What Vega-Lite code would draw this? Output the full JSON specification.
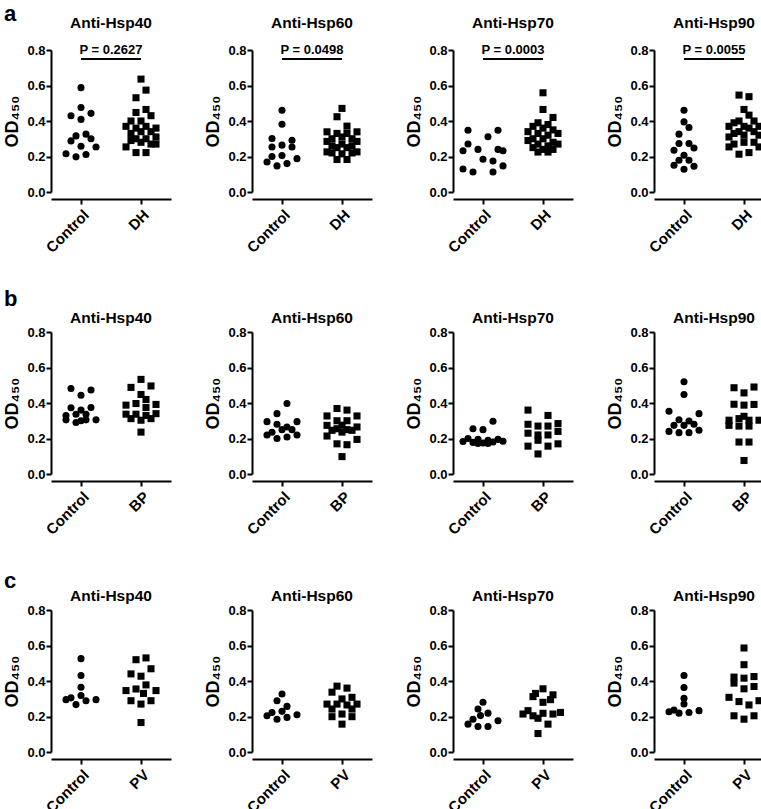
{
"$schema": "https://vega.github.io/schema/vega-lite/v6.json",
"padding": {"left": 3, "top": 2, "right": 0, "bottom": 0},
"data": {"values": [
{"row":"a","antigen":"Anti-Hsp40","group":"Control","od":0.588,"slot":0},
{"row":"a","antigen":"Anti-Hsp40","group":"Control","od":0.476,"slot":0},
{"row":"a","antigen":"Anti-Hsp40","group":"Control","od":0.443,"slot":2},
{"row":"a","antigen":"Anti-Hsp40","group":"Control","od":0.43,"slot":-2},
{"row":"a","antigen":"Anti-Hsp40","group":"Control","od":0.409,"slot":0},
{"row":"a","antigen":"Anti-Hsp40","group":"Control","od":0.326,"slot":1},
{"row":"a","antigen":"Anti-Hsp40","group":"Control","od":0.316,"slot":-1},
{"row":"a","antigen":"Anti-Hsp40","group":"Control","od":0.30,"slot":2},
{"row":"a","antigen":"Anti-Hsp40","group":"Control","od":0.288,"slot":-2},
{"row":"a","antigen":"Anti-Hsp40","group":"Control","od":0.258,"slot":0},
{"row":"a","antigen":"Anti-Hsp40","group":"Control","od":0.254,"slot":3},
{"row":"a","antigen":"Anti-Hsp40","group":"Control","od":0.215,"slot":-3},
{"row":"a","antigen":"Anti-Hsp40","group":"Control","od":0.211,"slot":1},
{"row":"a","antigen":"Anti-Hsp40","group":"Control","od":0.198,"slot":-1},
{"row":"a","antigen":"Anti-Hsp40","group":"DH","od":0.636,"slot":0},
{"row":"a","antigen":"Anti-Hsp40","group":"DH","od":0.40,"slot":0},
{"row":"a","antigen":"Anti-Hsp40","group":"DH","od":0.34,"slot":0},
{"row":"a","antigen":"Anti-Hsp40","group":"DH","od":0.28,"slot":0},
{"row":"a","antigen":"Anti-Hsp40","group":"DH","od":0.574,"slot":1},
{"row":"a","antigen":"Anti-Hsp40","group":"DH","od":0.465,"slot":1},
{"row":"a","antigen":"Anti-Hsp40","group":"DH","od":0.37,"slot":1},
{"row":"a","antigen":"Anti-Hsp40","group":"DH","od":0.30,"slot":1},
{"row":"a","antigen":"Anti-Hsp40","group":"DH","od":0.222,"slot":1},
{"row":"a","antigen":"Anti-Hsp40","group":"DH","od":0.531,"slot":-1},
{"row":"a","antigen":"Anti-Hsp40","group":"DH","od":0.448,"slot":-1},
{"row":"a","antigen":"Anti-Hsp40","group":"DH","od":0.36,"slot":-1},
{"row":"a","antigen":"Anti-Hsp40","group":"DH","od":0.30,"slot":-1},
{"row":"a","antigen":"Anti-Hsp40","group":"DH","od":0.222,"slot":-1},
{"row":"a","antigen":"Anti-Hsp40","group":"DH","od":0.43,"slot":2},
{"row":"a","antigen":"Anti-Hsp40","group":"DH","od":0.34,"slot":2},
{"row":"a","antigen":"Anti-Hsp40","group":"DH","od":0.27,"slot":2},
{"row":"a","antigen":"Anti-Hsp40","group":"DH","od":0.40,"slot":-2},
{"row":"a","antigen":"Anti-Hsp40","group":"DH","od":0.33,"slot":-2},
{"row":"a","antigen":"Anti-Hsp40","group":"DH","od":0.29,"slot":-2},
{"row":"a","antigen":"Anti-Hsp40","group":"DH","od":0.37,"slot":-3},
{"row":"a","antigen":"Anti-Hsp40","group":"DH","od":0.254,"slot":-3},
{"row":"a","antigen":"Anti-Hsp40","group":"DH","od":0.36,"slot":3},
{"row":"a","antigen":"Anti-Hsp40","group":"DH","od":0.31,"slot":3},
{"row":"a","antigen":"Anti-Hsp40","group":"DH","od":0.27,"slot":3},
{"row":"a","antigen":"Anti-Hsp60","group":"Control","od":0.461,"slot":0},
{"row":"a","antigen":"Anti-Hsp60","group":"Control","od":0.382,"slot":0},
{"row":"a","antigen":"Anti-Hsp60","group":"Control","od":0.301,"slot":-2},
{"row":"a","antigen":"Anti-Hsp60","group":"Control","od":0.292,"slot":2},
{"row":"a","antigen":"Anti-Hsp60","group":"Control","od":0.254,"slot":-2},
{"row":"a","antigen":"Anti-Hsp60","group":"Control","od":0.264,"slot":0},
{"row":"a","antigen":"Anti-Hsp60","group":"Control","od":0.254,"slot":2},
{"row":"a","antigen":"Anti-Hsp60","group":"Control","od":0.20,"slot":-2},
{"row":"a","antigen":"Anti-Hsp60","group":"Control","od":0.205,"slot":0},
{"row":"a","antigen":"Anti-Hsp60","group":"Control","od":0.188,"slot":3},
{"row":"a","antigen":"Anti-Hsp60","group":"Control","od":0.169,"slot":-3},
{"row":"a","antigen":"Anti-Hsp60","group":"Control","od":0.147,"slot":-1},
{"row":"a","antigen":"Anti-Hsp60","group":"Control","od":0.16,"slot":1},
{"row":"a","antigen":"Anti-Hsp60","group":"DH","od":0.471,"slot":0},
{"row":"a","antigen":"Anti-Hsp60","group":"DH","od":0.31,"slot":0},
{"row":"a","antigen":"Anti-Hsp60","group":"DH","od":0.27,"slot":0},
{"row":"a","antigen":"Anti-Hsp60","group":"DH","od":0.215,"slot":0},
{"row":"a","antigen":"Anti-Hsp60","group":"DH","od":0.424,"slot":-1},
{"row":"a","antigen":"Anti-Hsp60","group":"DH","od":0.33,"slot":-1},
{"row":"a","antigen":"Anti-Hsp60","group":"DH","od":0.25,"slot":-1},
{"row":"a","antigen":"Anti-Hsp60","group":"DH","od":0.183,"slot":-1},
{"row":"a","antigen":"Anti-Hsp60","group":"DH","od":0.371,"slot":1},
{"row":"a","antigen":"Anti-Hsp60","group":"DH","od":0.33,"slot":1},
{"row":"a","antigen":"Anti-Hsp60","group":"DH","od":0.25,"slot":1},
{"row":"a","antigen":"Anti-Hsp60","group":"DH","od":0.183,"slot":1},
{"row":"a","antigen":"Anti-Hsp60","group":"DH","od":0.30,"slot":-2},
{"row":"a","antigen":"Anti-Hsp60","group":"DH","od":0.26,"slot":-2},
{"row":"a","antigen":"Anti-Hsp60","group":"DH","od":0.22,"slot":-2},
{"row":"a","antigen":"Anti-Hsp60","group":"DH","od":0.30,"slot":2},
{"row":"a","antigen":"Anti-Hsp60","group":"DH","od":0.26,"slot":2},
{"row":"a","antigen":"Anti-Hsp60","group":"DH","od":0.22,"slot":2},
{"row":"a","antigen":"Anti-Hsp60","group":"DH","od":0.339,"slot":-3},
{"row":"a","antigen":"Anti-Hsp60","group":"DH","od":0.285,"slot":-3},
{"row":"a","antigen":"Anti-Hsp60","group":"DH","od":0.226,"slot":-3},
{"row":"a","antigen":"Anti-Hsp60","group":"DH","od":0.339,"slot":3},
{"row":"a","antigen":"Anti-Hsp60","group":"DH","od":0.285,"slot":3},
{"row":"a","antigen":"Anti-Hsp60","group":"DH","od":0.226,"slot":3},
{"row":"a","antigen":"Anti-Hsp70","group":"Control","od":0.348,"slot":-3},
{"row":"a","antigen":"Anti-Hsp70","group":"Control","od":0.348,"slot":3},
{"row":"a","antigen":"Anti-Hsp70","group":"Control","od":0.311,"slot":1},
{"row":"a","antigen":"Anti-Hsp70","group":"Control","od":0.27,"slot":-3},
{"row":"a","antigen":"Anti-Hsp70","group":"Control","od":0.232,"slot":-4},
{"row":"a","antigen":"Anti-Hsp70","group":"Control","od":0.24,"slot":-1},
{"row":"a","antigen":"Anti-Hsp70","group":"Control","od":0.24,"slot":3},
{"row":"a","antigen":"Anti-Hsp70","group":"Control","od":0.232,"slot":4},
{"row":"a","antigen":"Anti-Hsp70","group":"Control","od":0.185,"slot":0},
{"row":"a","antigen":"Anti-Hsp70","group":"Control","od":0.175,"slot":2},
{"row":"a","antigen":"Anti-Hsp70","group":"Control","od":0.13,"slot":-4},
{"row":"a","antigen":"Anti-Hsp70","group":"Control","od":0.147,"slot":4},
{"row":"a","antigen":"Anti-Hsp70","group":"Control","od":0.113,"slot":-2},
{"row":"a","antigen":"Anti-Hsp70","group":"Control","od":0.113,"slot":2},
{"row":"a","antigen":"Anti-Hsp70","group":"DH","od":0.559,"slot":0},
{"row":"a","antigen":"Anti-Hsp70","group":"DH","od":0.465,"slot":0},
{"row":"a","antigen":"Anti-Hsp70","group":"DH","od":0.36,"slot":0},
{"row":"a","antigen":"Anti-Hsp70","group":"DH","od":0.30,"slot":0},
{"row":"a","antigen":"Anti-Hsp70","group":"DH","od":0.24,"slot":0},
{"row":"a","antigen":"Anti-Hsp70","group":"DH","od":0.39,"slot":-1},
{"row":"a","antigen":"Anti-Hsp70","group":"DH","od":0.33,"slot":-1},
{"row":"a","antigen":"Anti-Hsp70","group":"DH","od":0.27,"slot":-1},
{"row":"a","antigen":"Anti-Hsp70","group":"DH","od":0.225,"slot":-1},
{"row":"a","antigen":"Anti-Hsp70","group":"DH","od":0.38,"slot":1},
{"row":"a","antigen":"Anti-Hsp70","group":"DH","od":0.32,"slot":1},
{"row":"a","antigen":"Anti-Hsp70","group":"DH","od":0.26,"slot":1},
{"row":"a","antigen":"Anti-Hsp70","group":"DH","od":0.225,"slot":1},
{"row":"a","antigen":"Anti-Hsp70","group":"DH","od":0.37,"slot":-2},
{"row":"a","antigen":"Anti-Hsp70","group":"DH","od":0.30,"slot":-2},
{"row":"a","antigen":"Anti-Hsp70","group":"DH","od":0.25,"slot":-2},
{"row":"a","antigen":"Anti-Hsp70","group":"DH","od":0.42,"slot":2},
{"row":"a","antigen":"Anti-Hsp70","group":"DH","od":0.35,"slot":2},
{"row":"a","antigen":"Anti-Hsp70","group":"DH","od":0.28,"slot":2},
{"row":"a","antigen":"Anti-Hsp70","group":"DH","od":0.24,"slot":2},
{"row":"a","antigen":"Anti-Hsp70","group":"DH","od":0.34,"slot":-3},
{"row":"a","antigen":"Anti-Hsp70","group":"DH","od":0.29,"slot":-3},
{"row":"a","antigen":"Anti-Hsp70","group":"DH","od":0.33,"slot":3},
{"row":"a","antigen":"Anti-Hsp70","group":"DH","od":0.27,"slot":3},
{"row":"a","antigen":"Anti-Hsp90","group":"Control","od":0.461,"slot":0},
{"row":"a","antigen":"Anti-Hsp90","group":"Control","od":0.395,"slot":0},
{"row":"a","antigen":"Anti-Hsp90","group":"Control","od":0.363,"slot":1},
{"row":"a","antigen":"Anti-Hsp90","group":"Control","od":0.326,"slot":-1},
{"row":"a","antigen":"Anti-Hsp90","group":"Control","od":0.273,"slot":-1},
{"row":"a","antigen":"Anti-Hsp90","group":"Control","od":0.273,"slot":1},
{"row":"a","antigen":"Anti-Hsp90","group":"Control","od":0.235,"slot":-2},
{"row":"a","antigen":"Anti-Hsp90","group":"Control","od":0.248,"slot":2},
{"row":"a","antigen":"Anti-Hsp90","group":"Control","od":0.207,"slot":0},
{"row":"a","antigen":"Anti-Hsp90","group":"Control","od":0.179,"slot":-1},
{"row":"a","antigen":"Anti-Hsp90","group":"Control","od":0.179,"slot":1},
{"row":"a","antigen":"Anti-Hsp90","group":"Control","od":0.151,"slot":-2},
{"row":"a","antigen":"Anti-Hsp90","group":"Control","od":0.145,"slot":2},
{"row":"a","antigen":"Anti-Hsp90","group":"Control","od":0.128,"slot":0},
{"row":"a","antigen":"Anti-Hsp90","group":"DH","od":0.465,"slot":0},
{"row":"a","antigen":"Anti-Hsp90","group":"DH","od":0.37,"slot":0},
{"row":"a","antigen":"Anti-Hsp90","group":"DH","od":0.32,"slot":0},
{"row":"a","antigen":"Anti-Hsp90","group":"DH","od":0.28,"slot":0},
{"row":"a","antigen":"Anti-Hsp90","group":"DH","od":0.546,"slot":-1},
{"row":"a","antigen":"Anti-Hsp90","group":"DH","od":0.40,"slot":-1},
{"row":"a","antigen":"Anti-Hsp90","group":"DH","od":0.34,"slot":-1},
{"row":"a","antigen":"Anti-Hsp90","group":"DH","od":0.213,"slot":-1},
{"row":"a","antigen":"Anti-Hsp90","group":"DH","od":0.537,"slot":1},
{"row":"a","antigen":"Anti-Hsp90","group":"DH","od":0.433,"slot":1},
{"row":"a","antigen":"Anti-Hsp90","group":"DH","od":0.36,"slot":1},
{"row":"a","antigen":"Anti-Hsp90","group":"DH","od":0.222,"slot":1},
{"row":"a","antigen":"Anti-Hsp90","group":"DH","od":0.39,"slot":-2},
{"row":"a","antigen":"Anti-Hsp90","group":"DH","od":0.33,"slot":-2},
{"row":"a","antigen":"Anti-Hsp90","group":"DH","od":0.27,"slot":-2},
{"row":"a","antigen":"Anti-Hsp90","group":"DH","od":0.40,"slot":2},
{"row":"a","antigen":"Anti-Hsp90","group":"DH","od":0.34,"slot":2},
{"row":"a","antigen":"Anti-Hsp90","group":"DH","od":0.28,"slot":2},
{"row":"a","antigen":"Anti-Hsp90","group":"DH","od":0.37,"slot":-3},
{"row":"a","antigen":"Anti-Hsp90","group":"DH","od":0.31,"slot":-3},
{"row":"a","antigen":"Anti-Hsp90","group":"DH","od":0.254,"slot":-3},
{"row":"a","antigen":"Anti-Hsp90","group":"DH","od":0.37,"slot":3},
{"row":"a","antigen":"Anti-Hsp90","group":"DH","od":0.32,"slot":3},
{"row":"a","antigen":"Anti-Hsp90","group":"DH","od":0.254,"slot":3},
{"row":"a","antigen":"Anti-Hsp40","group":"Control","group2":"DH","label":"P = 0.2627"},
{"row":"a","antigen":"Anti-Hsp60","group":"Control","group2":"DH","label":"P = 0.0498"},
{"row":"a","antigen":"Anti-Hsp70","group":"Control","group2":"DH","label":"P = 0.0003"},
{"row":"a","antigen":"Anti-Hsp90","group":"Control","group2":"DH","label":"P = 0.0055"},
{"row":"b","antigen":"Anti-Hsp40","group":"Control","od":0.482,"slot":-2},
{"row":"b","antigen":"Anti-Hsp40","group":"Control","od":0.473,"slot":2},
{"row":"b","antigen":"Anti-Hsp40","group":"Control","od":0.444,"slot":0},
{"row":"b","antigen":"Anti-Hsp40","group":"Control","od":0.373,"slot":-2},
{"row":"b","antigen":"Anti-Hsp40","group":"Control","od":0.374,"slot":2},
{"row":"b","antigen":"Anti-Hsp40","group":"Control","od":0.36,"slot":0},
{"row":"b","antigen":"Anti-Hsp40","group":"Control","od":0.337,"slot":-1},
{"row":"b","antigen":"Anti-Hsp40","group":"Control","od":0.337,"slot":1},
{"row":"b","antigen":"Anti-Hsp40","group":"Control","od":0.305,"slot":-3},
{"row":"b","antigen":"Anti-Hsp40","group":"Control","od":0.29,"slot":-1},
{"row":"b","antigen":"Anti-Hsp40","group":"Control","od":0.305,"slot":1},
{"row":"b","antigen":"Anti-Hsp40","group":"Control","od":0.305,"slot":3},
{"row":"b","antigen":"Anti-Hsp40","group":"Control","od":0.33,"slot":-3},
{"row":"b","antigen":"Anti-Hsp40","group":"Control","od":0.30,"slot":0},
{"row":"b","antigen":"Anti-Hsp40","group":"BP","od":0.533,"slot":0},
{"row":"b","antigen":"Anti-Hsp40","group":"BP","od":0.488,"slot":-2},
{"row":"b","antigen":"Anti-Hsp40","group":"BP","od":0.496,"slot":2},
{"row":"b","antigen":"Anti-Hsp40","group":"BP","od":0.448,"slot":0},
{"row":"b","antigen":"Anti-Hsp40","group":"BP","od":0.42,"slot":1},
{"row":"b","antigen":"Anti-Hsp40","group":"BP","od":0.388,"slot":-3},
{"row":"b","antigen":"Anti-Hsp40","group":"BP","od":0.397,"slot":-1},
{"row":"b","antigen":"Anti-Hsp40","group":"BP","od":0.392,"slot":3},
{"row":"b","antigen":"Anti-Hsp40","group":"BP","od":0.375,"slot":1},
{"row":"b","antigen":"Anti-Hsp40","group":"BP","od":0.337,"slot":-3},
{"row":"b","antigen":"Anti-Hsp40","group":"BP","od":0.337,"slot":-1},
{"row":"b","antigen":"Anti-Hsp40","group":"BP","od":0.33,"slot":1},
{"row":"b","antigen":"Anti-Hsp40","group":"BP","od":0.34,"slot":3},
{"row":"b","antigen":"Anti-Hsp40","group":"BP","od":0.312,"slot":-2},
{"row":"b","antigen":"Anti-Hsp40","group":"BP","od":0.312,"slot":2},
{"row":"b","antigen":"Anti-Hsp40","group":"BP","od":0.303,"slot":0},
{"row":"b","antigen":"Anti-Hsp40","group":"BP","od":0.236,"slot":0},
{"row":"b","antigen":"Anti-Hsp60","group":"Control","od":0.397,"slot":1},
{"row":"b","antigen":"Anti-Hsp60","group":"Control","od":0.34,"slot":-1},
{"row":"b","antigen":"Anti-Hsp60","group":"Control","od":0.295,"slot":-3},
{"row":"b","antigen":"Anti-Hsp60","group":"Control","od":0.295,"slot":3},
{"row":"b","antigen":"Anti-Hsp60","group":"Control","od":0.28,"slot":-1},
{"row":"b","antigen":"Anti-Hsp60","group":"Control","od":0.265,"slot":1},
{"row":"b","antigen":"Anti-Hsp60","group":"Control","od":0.25,"slot":0},
{"row":"b","antigen":"Anti-Hsp60","group":"Control","od":0.25,"slot":2},
{"row":"b","antigen":"Anti-Hsp60","group":"Control","od":0.22,"slot":-3},
{"row":"b","antigen":"Anti-Hsp60","group":"Control","od":0.22,"slot":3},
{"row":"b","antigen":"Anti-Hsp60","group":"Control","od":0.20,"slot":-1},
{"row":"b","antigen":"Anti-Hsp60","group":"Control","od":0.208,"slot":1},
{"row":"b","antigen":"Anti-Hsp60","group":"Control","od":0.235,"slot":-2},
{"row":"b","antigen":"Anti-Hsp60","group":"BP","od":0.369,"slot":-1},
{"row":"b","antigen":"Anti-Hsp60","group":"BP","od":0.30,"slot":-1},
{"row":"b","antigen":"Anti-Hsp60","group":"BP","od":0.255,"slot":-1},
{"row":"b","antigen":"Anti-Hsp60","group":"BP","od":0.17,"slot":-1},
{"row":"b","antigen":"Anti-Hsp60","group":"BP","od":0.36,"slot":1},
{"row":"b","antigen":"Anti-Hsp60","group":"BP","od":0.30,"slot":1},
{"row":"b","antigen":"Anti-Hsp60","group":"BP","od":0.25,"slot":1},
{"row":"b","antigen":"Anti-Hsp60","group":"BP","od":0.165,"slot":1},
{"row":"b","antigen":"Anti-Hsp60","group":"BP","od":0.327,"slot":-3},
{"row":"b","antigen":"Anti-Hsp60","group":"BP","od":0.274,"slot":-3},
{"row":"b","antigen":"Anti-Hsp60","group":"BP","od":0.214,"slot":-3},
{"row":"b","antigen":"Anti-Hsp60","group":"BP","od":0.327,"slot":3},
{"row":"b","antigen":"Anti-Hsp60","group":"BP","od":0.265,"slot":3},
{"row":"b","antigen":"Anti-Hsp60","group":"BP","od":0.195,"slot":3},
{"row":"b","antigen":"Anti-Hsp60","group":"BP","od":0.275,"slot":0},
{"row":"b","antigen":"Anti-Hsp60","group":"BP","od":0.236,"slot":0},
{"row":"b","antigen":"Anti-Hsp60","group":"BP","od":0.098,"slot":0},
{"row":"b","antigen":"Anti-Hsp60","group":"BP","od":0.246,"slot":-2},
{"row":"b","antigen":"Anti-Hsp60","group":"BP","od":0.246,"slot":2},
{"row":"b","antigen":"Anti-Hsp70","group":"Control","od":0.255,"slot":-2},
{"row":"b","antigen":"Anti-Hsp70","group":"Control","od":0.25,"slot":0},
{"row":"b","antigen":"Anti-Hsp70","group":"Control","od":0.297,"slot":2},
{"row":"b","antigen":"Anti-Hsp70","group":"Control","od":0.20,"slot":-3},
{"row":"b","antigen":"Anti-Hsp70","group":"Control","od":0.195,"slot":-1},
{"row":"b","antigen":"Anti-Hsp70","group":"Control","od":0.19,"slot":1},
{"row":"b","antigen":"Anti-Hsp70","group":"Control","od":0.195,"slot":3},
{"row":"b","antigen":"Anti-Hsp70","group":"Control","od":0.178,"slot":-2},
{"row":"b","antigen":"Anti-Hsp70","group":"Control","od":0.175,"slot":0},
{"row":"b","antigen":"Anti-Hsp70","group":"Control","od":0.18,"slot":2},
{"row":"b","antigen":"Anti-Hsp70","group":"Control","od":0.185,"slot":4},
{"row":"b","antigen":"Anti-Hsp70","group":"Control","od":0.183,"slot":-4},
{"row":"b","antigen":"Anti-Hsp70","group":"Control","od":0.172,"slot":-1},
{"row":"b","antigen":"Anti-Hsp70","group":"Control","od":0.172,"slot":1},
{"row":"b","antigen":"Anti-Hsp70","group":"BP","od":0.36,"slot":-3},
{"row":"b","antigen":"Anti-Hsp70","group":"BP","od":0.28,"slot":-3},
{"row":"b","antigen":"Anti-Hsp70","group":"BP","od":0.23,"slot":-3},
{"row":"b","antigen":"Anti-Hsp70","group":"BP","od":0.157,"slot":-3},
{"row":"b","antigen":"Anti-Hsp70","group":"BP","od":0.27,"slot":-1},
{"row":"b","antigen":"Anti-Hsp70","group":"BP","od":0.22,"slot":-1},
{"row":"b","antigen":"Anti-Hsp70","group":"BP","od":0.19,"slot":-1},
{"row":"b","antigen":"Anti-Hsp70","group":"BP","od":0.113,"slot":-1},
{"row":"b","antigen":"Anti-Hsp70","group":"BP","od":0.33,"slot":1},
{"row":"b","antigen":"Anti-Hsp70","group":"BP","od":0.27,"slot":1},
{"row":"b","antigen":"Anti-Hsp70","group":"BP","od":0.22,"slot":1},
{"row":"b","antigen":"Anti-Hsp70","group":"BP","od":0.157,"slot":1},
{"row":"b","antigen":"Anti-Hsp70","group":"BP","od":0.284,"slot":3},
{"row":"b","antigen":"Anti-Hsp70","group":"BP","od":0.24,"slot":3},
{"row":"b","antigen":"Anti-Hsp70","group":"BP","od":0.17,"slot":3},
{"row":"b","antigen":"Anti-Hsp90","group":"Control","od":0.52,"slot":0},
{"row":"b","antigen":"Anti-Hsp90","group":"Control","od":0.448,"slot":0},
{"row":"b","antigen":"Anti-Hsp90","group":"Control","od":0.354,"slot":-3},
{"row":"b","antigen":"Anti-Hsp90","group":"Control","od":0.34,"slot":3},
{"row":"b","antigen":"Anti-Hsp90","group":"Control","od":0.306,"slot":-1},
{"row":"b","antigen":"Anti-Hsp90","group":"Control","od":0.299,"slot":1},
{"row":"b","antigen":"Anti-Hsp90","group":"Control","od":0.274,"slot":-2},
{"row":"b","antigen":"Anti-Hsp90","group":"Control","od":0.274,"slot":0},
{"row":"b","antigen":"Anti-Hsp90","group":"Control","od":0.28,"slot":2},
{"row":"b","antigen":"Anti-Hsp90","group":"Control","od":0.24,"slot":-3},
{"row":"b","antigen":"Anti-Hsp90","group":"Control","od":0.246,"slot":3},
{"row":"b","antigen":"Anti-Hsp90","group":"Control","od":0.233,"slot":-1},
{"row":"b","antigen":"Anti-Hsp90","group":"Control","od":0.233,"slot":1},
{"row":"b","antigen":"Anti-Hsp90","group":"BP","od":0.486,"slot":-2},
{"row":"b","antigen":"Anti-Hsp90","group":"BP","od":0.49,"slot":2},
{"row":"b","antigen":"Anti-Hsp90","group":"BP","od":0.457,"slot":0},
{"row":"b","antigen":"Anti-Hsp90","group":"BP","od":0.393,"slot":-2},
{"row":"b","antigen":"Anti-Hsp90","group":"BP","od":0.388,"slot":0},
{"row":"b","antigen":"Anti-Hsp90","group":"BP","od":0.392,"slot":2},
{"row":"b","antigen":"Anti-Hsp90","group":"BP","od":0.325,"slot":0},
{"row":"b","antigen":"Anti-Hsp90","group":"BP","od":0.303,"slot":-3},
{"row":"b","antigen":"Anti-Hsp90","group":"BP","od":0.312,"slot":-1},
{"row":"b","antigen":"Anti-Hsp90","group":"BP","od":0.303,"slot":1},
{"row":"b","antigen":"Anti-Hsp90","group":"BP","od":0.303,"slot":3},
{"row":"b","antigen":"Anti-Hsp90","group":"BP","od":0.274,"slot":-3},
{"row":"b","antigen":"Anti-Hsp90","group":"BP","od":0.27,"slot":-1},
{"row":"b","antigen":"Anti-Hsp90","group":"BP","od":0.27,"slot":1},
{"row":"b","antigen":"Anti-Hsp90","group":"BP","od":0.18,"slot":-1},
{"row":"b","antigen":"Anti-Hsp90","group":"BP","od":0.18,"slot":1},
{"row":"b","antigen":"Anti-Hsp90","group":"BP","od":0.076,"slot":0},
{"row":"c","antigen":"Anti-Hsp40","group":"Control","od":0.526,"slot":0},
{"row":"c","antigen":"Anti-Hsp40","group":"Control","od":0.431,"slot":0},
{"row":"c","antigen":"Anti-Hsp40","group":"Control","od":0.365,"slot":0},
{"row":"c","antigen":"Anti-Hsp40","group":"Control","od":0.295,"slot":-3},
{"row":"c","antigen":"Anti-Hsp40","group":"Control","od":0.305,"slot":-2},
{"row":"c","antigen":"Anti-Hsp40","group":"Control","od":0.318,"slot":0},
{"row":"c","antigen":"Anti-Hsp40","group":"Control","od":0.289,"slot":1},
{"row":"c","antigen":"Anti-Hsp40","group":"Control","od":0.267,"slot":-1},
{"row":"c","antigen":"Anti-Hsp40","group":"Control","od":0.295,"slot":3},
{"row":"c","antigen":"Anti-Hsp40","group":"PV","od":0.52,"slot":-1},
{"row":"c","antigen":"Anti-Hsp40","group":"PV","od":0.53,"slot":1},
{"row":"c","antigen":"Anti-Hsp40","group":"PV","od":0.469,"slot":2},
{"row":"c","antigen":"Anti-Hsp40","group":"PV","od":0.44,"slot":-2},
{"row":"c","antigen":"Anti-Hsp40","group":"PV","od":0.427,"slot":0},
{"row":"c","antigen":"Anti-Hsp40","group":"PV","od":0.346,"slot":-3},
{"row":"c","antigen":"Anti-Hsp40","group":"PV","od":0.355,"slot":-1},
{"row":"c","antigen":"Anti-Hsp40","group":"PV","od":0.378,"slot":1},
{"row":"c","antigen":"Anti-Hsp40","group":"PV","od":0.346,"slot":3},
{"row":"c","antigen":"Anti-Hsp40","group":"PV","od":0.33,"slot":0.5},
{"row":"c","antigen":"Anti-Hsp40","group":"PV","od":0.289,"slot":-2},
{"row":"c","antigen":"Anti-Hsp40","group":"PV","od":0.27,"slot":0},
{"row":"c","antigen":"Anti-Hsp40","group":"PV","od":0.289,"slot":2},
{"row":"c","antigen":"Anti-Hsp40","group":"PV","od":0.166,"slot":0},
{"row":"c","antigen":"Anti-Hsp60","group":"Control","od":0.327,"slot":0},
{"row":"c","antigen":"Anti-Hsp60","group":"Control","od":0.289,"slot":-1},
{"row":"c","antigen":"Anti-Hsp60","group":"Control","od":0.257,"slot":1},
{"row":"c","antigen":"Anti-Hsp60","group":"Control","od":0.223,"slot":-2},
{"row":"c","antigen":"Anti-Hsp60","group":"Control","od":0.204,"slot":-3},
{"row":"c","antigen":"Anti-Hsp60","group":"Control","od":0.229,"slot":0},
{"row":"c","antigen":"Anti-Hsp60","group":"Control","od":0.185,"slot":-1},
{"row":"c","antigen":"Anti-Hsp60","group":"Control","od":0.195,"slot":1},
{"row":"c","antigen":"Anti-Hsp60","group":"Control","od":0.21,"slot":3},
{"row":"c","antigen":"Anti-Hsp60","group":"PV","od":0.371,"slot":-1},
{"row":"c","antigen":"Anti-Hsp60","group":"PV","od":0.36,"slot":1},
{"row":"c","antigen":"Anti-Hsp60","group":"PV","od":0.337,"slot":-2},
{"row":"c","antigen":"Anti-Hsp60","group":"PV","od":0.299,"slot":0},
{"row":"c","antigen":"Anti-Hsp60","group":"PV","od":0.308,"slot":2},
{"row":"c","antigen":"Anti-Hsp60","group":"PV","od":0.27,"slot":-3},
{"row":"c","antigen":"Anti-Hsp60","group":"PV","od":0.27,"slot":-1},
{"row":"c","antigen":"Anti-Hsp60","group":"PV","od":0.265,"slot":1},
{"row":"c","antigen":"Anti-Hsp60","group":"PV","od":0.27,"slot":3},
{"row":"c","antigen":"Anti-Hsp60","group":"PV","od":0.242,"slot":-2},
{"row":"c","antigen":"Anti-Hsp60","group":"PV","od":0.242,"slot":2},
{"row":"c","antigen":"Anti-Hsp60","group":"PV","od":0.199,"slot":-2},
{"row":"c","antigen":"Anti-Hsp60","group":"PV","od":0.214,"slot":0},
{"row":"c","antigen":"Anti-Hsp60","group":"PV","od":0.199,"slot":2},
{"row":"c","antigen":"Anti-Hsp60","group":"PV","od":0.157,"slot":0},
{"row":"c","antigen":"Anti-Hsp70","group":"Control","od":0.28,"slot":0},
{"row":"c","antigen":"Anti-Hsp70","group":"Control","od":0.242,"slot":-1},
{"row":"c","antigen":"Anti-Hsp70","group":"Control","od":0.219,"slot":1},
{"row":"c","antigen":"Anti-Hsp70","group":"Control","od":0.185,"slot":-2},
{"row":"c","antigen":"Anti-Hsp70","group":"Control","od":0.157,"slot":-3},
{"row":"c","antigen":"Anti-Hsp70","group":"Control","od":0.205,"slot":-0.5},
{"row":"c","antigen":"Anti-Hsp70","group":"Control","od":0.144,"slot":-1},
{"row":"c","antigen":"Anti-Hsp70","group":"Control","od":0.144,"slot":1},
{"row":"c","antigen":"Anti-Hsp70","group":"Control","od":0.176,"slot":3},
{"row":"c","antigen":"Anti-Hsp70","group":"PV","od":0.356,"slot":0},
{"row":"c","antigen":"Anti-Hsp70","group":"PV","od":0.33,"slot":-1.5},
{"row":"c","antigen":"Anti-Hsp70","group":"PV","od":0.312,"slot":-2},
{"row":"c","antigen":"Anti-Hsp70","group":"PV","od":0.322,"slot":2},
{"row":"c","antigen":"Anti-Hsp70","group":"PV","od":0.28,"slot":0},
{"row":"c","antigen":"Anti-Hsp70","group":"PV","od":0.295,"slot":1.5},
{"row":"c","antigen":"Anti-Hsp70","group":"PV","od":0.233,"slot":-3},
{"row":"c","antigen":"Anti-Hsp70","group":"PV","od":0.214,"slot":-4},
{"row":"c","antigen":"Anti-Hsp70","group":"PV","od":0.204,"slot":-2},
{"row":"c","antigen":"Anti-Hsp70","group":"PV","od":0.218,"slot":0},
{"row":"c","antigen":"Anti-Hsp70","group":"PV","od":0.214,"slot":2},
{"row":"c","antigen":"Anti-Hsp70","group":"PV","od":0.223,"slot":3.5},
{"row":"c","antigen":"Anti-Hsp70","group":"PV","od":0.19,"slot":-1},
{"row":"c","antigen":"Anti-Hsp70","group":"PV","od":0.157,"slot":1},
{"row":"c","antigen":"Anti-Hsp70","group":"PV","od":0.104,"slot":-1},
{"row":"c","antigen":"Anti-Hsp90","group":"Control","od":0.431,"slot":0},
{"row":"c","antigen":"Anti-Hsp90","group":"Control","od":0.363,"slot":0},
{"row":"c","antigen":"Anti-Hsp90","group":"Control","od":0.303,"slot":0},
{"row":"c","antigen":"Anti-Hsp90","group":"Control","od":0.27,"slot":0},
{"row":"c","antigen":"Anti-Hsp90","group":"Control","od":0.227,"slot":-3},
{"row":"c","antigen":"Anti-Hsp90","group":"Control","od":0.236,"slot":-2},
{"row":"c","antigen":"Anti-Hsp90","group":"Control","od":0.219,"slot":-1},
{"row":"c","antigen":"Anti-Hsp90","group":"Control","od":0.223,"slot":1},
{"row":"c","antigen":"Anti-Hsp90","group":"Control","od":0.233,"slot":3},
{"row":"c","antigen":"Anti-Hsp90","group":"PV","od":0.586,"slot":0},
{"row":"c","antigen":"Anti-Hsp90","group":"PV","od":0.492,"slot":0},
{"row":"c","antigen":"Anti-Hsp90","group":"PV","od":0.422,"slot":-2},
{"row":"c","antigen":"Anti-Hsp90","group":"PV","od":0.416,"slot":0},
{"row":"c","antigen":"Anti-Hsp90","group":"PV","od":0.425,"slot":2},
{"row":"c","antigen":"Anti-Hsp90","group":"PV","od":0.388,"slot":-2},
{"row":"c","antigen":"Anti-Hsp90","group":"PV","od":0.356,"slot":0},
{"row":"c","antigen":"Anti-Hsp90","group":"PV","od":0.369,"slot":2},
{"row":"c","antigen":"Anti-Hsp90","group":"PV","od":0.308,"slot":-3},
{"row":"c","antigen":"Anti-Hsp90","group":"PV","od":0.289,"slot":3},
{"row":"c","antigen":"Anti-Hsp90","group":"PV","od":0.284,"slot":-1},
{"row":"c","antigen":"Anti-Hsp90","group":"PV","od":0.265,"slot":1},
{"row":"c","antigen":"Anti-Hsp90","group":"PV","od":0.204,"slot":-2},
{"row":"c","antigen":"Anti-Hsp90","group":"PV","od":0.204,"slot":2},
{"row":"c","antigen":"Anti-Hsp90","group":"PV","od":0.185,"slot":0}
]},
"spacing": 31,
"vconcat": [
{
 "title": {"text": "a", "offset": -10},
 "transform": [{"filter": "datum.row === 'a'"}],
 "facet": {"column": {"field": "antigen", "type": "nominal", "title": null, "header": {"labelPadding": 12}}},
 "spacing": 33,
 "resolve": {"axis": {"y": "independent"}},
 "spec": {
  "width": 120, "height": 142,
  "layer": [
   {"transform": [{"filter": "datum.od != null"}],
    "mark": {"type": "point", "filled": true, "opacity": 1, "color": "black", "size": 50},
    "encoding": {
     "x": {"field": "group", "type": "nominal", "scale": {"type": "point", "padding": 0.5, "domain": ["Control", "DH"]}, "axis": {"title": null}},
     "xOffset": {"field": "slot", "type": "quantitative", "scale": {"domain": [-10, 10], "range": [-50, 50]}},
     "y": {"field": "od", "type": "quantitative", "scale": {"domain": [0, 0.8], "nice": false}, "axis": {"title": "OD₄₅₀", "values": [0, 0.2, 0.4, 0.6, 0.8], "format": ".1f", "labelFontSize": 13, "labelOverlap": false}},
     "shape": {"condition": {"test": "datum.group === 'Control'", "value": "circle"}, "value": "square"}
    }},
   {"transform": [{"filter": "datum.label != null"}],
    "mark": {"type": "rule", "strokeWidth": 2, "color": "black"},
    "encoding": {
     "x": {"field": "group", "type": "nominal", "axis": {"title": null}},
     "x2": {"field": "group2"},
     "y": {"datum": 0.75, "type": "quantitative", "axis": {"title": "OD₄₅₀", "values": [0, 0.2, 0.4, 0.6, 0.8], "format": ".1f", "labelFontSize": 13, "labelOverlap": false}}
    }},
   {"transform": [{"filter": "datum.label != null"}],
    "mark": {"type": "text", "dx": 30, "fontSize": 13, "fontWeight": "bold", "baseline": "alphabetic", "color": "black"},
    "encoding": {
     "x": {"field": "group", "type": "nominal", "axis": {"title": null}},
     "y": {"datum": 0.78, "type": "quantitative", "axis": {"title": "OD₄₅₀", "values": [0, 0.2, 0.4, 0.6, 0.8], "format": ".1f", "labelFontSize": 13, "labelOverlap": false}},
     "text": {"field": "label"}
    }}
  ]
 }
},
{
 "title": {"text": "b", "offset": 0},
 "transform": [{"filter": "datum.row === 'b'"}],
 "facet": {"column": {"field": "antigen", "type": "nominal", "title": null, "header": {"labelPadding": 0}}},
 "spacing": 33,
 "resolve": {"axis": {"y": "independent"}},
 "spec": {
  "width": 120, "height": 142,
  "mark": {"type": "point", "filled": true, "opacity": 1, "color": "black", "size": 50},
  "encoding": {
   "x": {"field": "group", "type": "nominal", "scale": {"type": "point", "padding": 0.5, "domain": ["Control", "BP"]}, "axis": {"title": null}},
   "xOffset": {"field": "slot", "type": "quantitative", "scale": {"domain": [-10, 10], "range": [-50, 50]}},
   "y": {"field": "od", "type": "quantitative", "scale": {"domain": [0, 0.8], "nice": false}, "axis": {"title": "OD₄₅₀", "values": [0, 0.2, 0.4, 0.6, 0.8], "format": ".1f", "labelFontSize": 13, "labelOverlap": false}},
   "shape": {"condition": {"test": "datum.group === 'Control'", "value": "circle"}, "value": "square"}
  }
 }
},
{
 "title": {"text": "c", "offset": -4},
 "transform": [{"filter": "datum.row === 'c'"}],
 "facet": {"column": {"field": "antigen", "type": "nominal", "title": null, "header": {"labelPadding": 0}}},
 "spacing": 33,
 "resolve": {"axis": {"y": "independent"}},
 "spec": {
  "width": 120, "height": 142,
  "mark": {"type": "point", "filled": true, "opacity": 1, "color": "black", "size": 50},
  "encoding": {
   "x": {"field": "group", "type": "nominal", "scale": {"type": "point", "padding": 0.5, "domain": ["Control", "PV"]}, "axis": {"title": null}},
   "xOffset": {"field": "slot", "type": "quantitative", "scale": {"domain": [-10, 10], "range": [-50, 50]}},
   "y": {"field": "od", "type": "quantitative", "scale": {"domain": [0, 0.8], "nice": false}, "axis": {"title": "OD₄₅₀", "values": [0, 0.2, 0.4, 0.6, 0.8], "format": ".1f", "labelFontSize": 13, "labelOverlap": false}},
   "shape": {"condition": {"test": "datum.group === 'Control'", "value": "circle"}, "value": "square"}
  }
 }
}
],
"config": {
 "font": "Liberation Sans",
 "view": {"stroke": null},
 "axis": {"domainColor": "black", "domainWidth": 2, "tickColor": "black", "tickWidth": 2, "tickSize": 5, "labelColor": "black", "labelFont": "Liberation Sans", "labelFontWeight": "bold", "labelFontSize": 13, "labelPadding": 1, "titleColor": "black", "titleFont": "Liberation Sans", "titleFontWeight": "bold", "titleFontSize": 18, "titlePadding": 5, "grid": false},
 "axisX": {"labelFontSize": 15, "labelAngle": -45, "labelPadding": 3},
 "header": {"labelFont": "Liberation Sans", "labelFontSize": 15.5, "labelFontWeight": "bold", "labelColor": "black"},
 "title": {"anchor": "start", "fontSize": 22, "fontWeight": "bold", "font": "Liberation Sans", "color": "black"}
}
}
